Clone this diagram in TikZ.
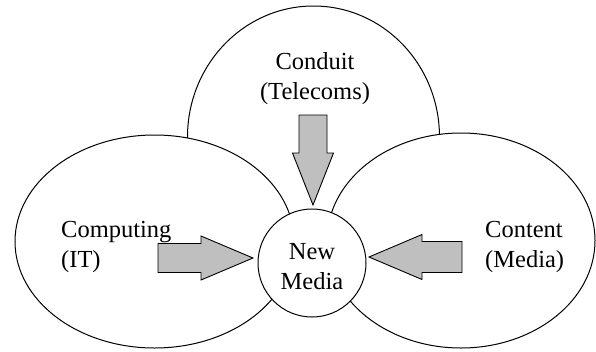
\documentclass[tikz,border=0pt]{standalone}
\usepackage{fontspec}
\setmainfont{Liberation Serif}

\definecolor{arrowgray}{gray}{0.75}

\begin{document}
\begin{tikzpicture}[x=1pt,y=-1pt,
    field/.style={draw,fill=white,line width=1pt},
    label/.style={font=\fontsize{24.5}{30}\selectfont,inner sep=0pt},
    blockarrow/.style={draw,fill=arrowgray,line width=0.9pt,line join=miter}]
  \useasboundingbox (0,0) rectangle (596,351);
  % the three fields
  \draw[field] (313.5,137) ellipse [x radius=126pt,y radius=131pt];
  \draw[field] (154.6,241.5) ellipse [x radius=139.6pt,y radius=106.5pt];
  \draw[field] (461,240.5) ellipse [x radius=134pt,y radius=107.5pt];
  \node[label,align=center] (conduit) at (315,79) {Conduit\\(Telecoms)};
  \node[label,align=left,anchor=west] (computing) at (61,247) {Computing\\(IT)};
  \node[label,align=left,anchor=west] (content) at (485,247) {Content\\(Media)};
  % where they meet
  \node[draw,fill=white,circle,line width=1pt,minimum size=108pt,inner sep=0pt]
    (hub) at (312,263) {};
  \node[label,align=center] (newmedia) at (312,267) {New\\Media};
  % arrows into the hub
  \coordinate (tipconduit) at (313,205);
  \coordinate (tipcomputing) at (253,258);
  \coordinate (tipcontent) at (369,257);
  \draw[blockarrow] (tipconduit) -- ++(-20.5,-52) -- ++(6.5,0) -- ++(0,-38)
    -- ++(28,0) -- ++(0,38) -- ++(6.5,0) -- cycle;
  \draw[blockarrow] (tipcomputing) -- ++(-52,-22) -- ++(0,7.5) -- ++(-43,0)
    -- ++(0,29) -- ++(43,0) -- ++(0,7.5) -- cycle;
  \draw[blockarrow] (tipcontent) -- ++(53,-22.5) -- ++(0,7) -- ++(40,0)
    -- ++(0,31) -- ++(-40,0) -- ++(0,7) -- cycle;
\end{tikzpicture}
\end{document}
